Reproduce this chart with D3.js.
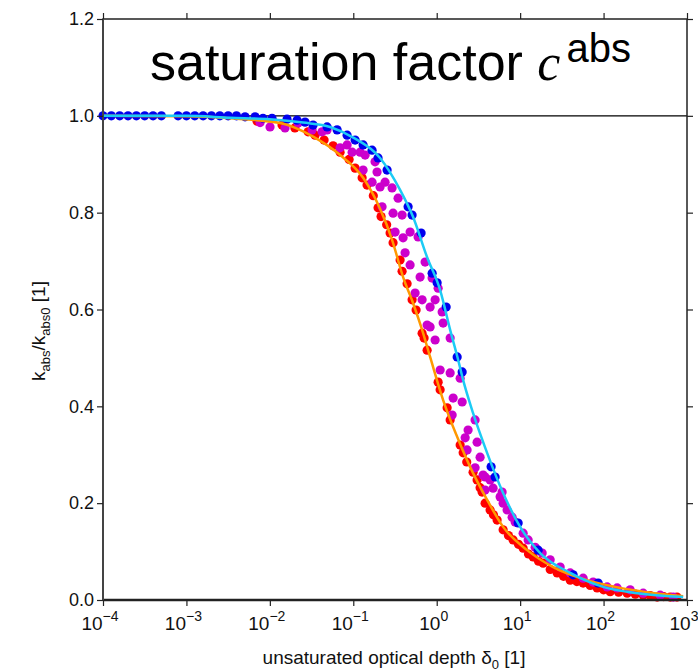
<!DOCTYPE html>
<html>
<head>
<meta charset="utf-8">
<script src="https://cdn.jsdelivr.net/npm/d3@7"></script>
<style>
  body { margin: 0; background: #fff; }
  svg { display: block; font-family: "Liberation Sans", Arial, sans-serif; }
</style>
</head>
<body>
<svg id="chart" width="698" height="671"></svg>
<script>
// data: [log10(delta0), kabs/kabs0]
var cyanCurve = [[-4,1.0],[-3,1.0],[-2.477,0.996],[-2,0.993],[-1.6,0.986],[-1.278,0.977],[-1,0.955],[-0.679,0.913],[-0.439,0.847],[-0.283,0.791],
  [-0.115,0.708],[0.041,0.640],[0.161,0.558],[0.257,0.496],[0.317,0.454],[0.436,0.386],[0.604,0.304],[0.796,0.221],[1.0,0.151],
  [1.240,0.097],[1.600,0.056],[1.995,0.027],[2.403,0.014],[2.954,0.006]];
var orangeCurve = [[-4,1.0],[-3,0.999],[-2.477,0.995],[-1.878,0.985],[-1.482,0.957],[-1.158,0.919],[-0.882,0.872],[-0.679,0.808],
  [-0.535,0.744],[-0.403,0.667],[-0.283,0.613],[-0.175,0.558],[-0.079,0.502],[0.077,0.413],[0.245,0.337],[0.400,0.275],
  [0.604,0.207],[0.796,0.151],[1.084,0.103],[1.396,0.068],[1.803,0.041],[2.199,0.025],[2.954,0.008]];

var redPts = [[-2.153,0.989],[-1.854,0.981],[-1.7,0.975],[-1.542,0.967],[-1.458,0.960],[-1.35,0.950],[-1.242,0.938],[-1.158,0.925],
  [-1.05,0.910],[-0.978,0.892],[-0.894,0.872],[-0.835,0.857],[-0.76,0.835],[-0.703,0.810],[-0.667,0.792],[-0.6,0.775],
  [-0.559,0.758],[-0.523,0.738],[-0.439,0.702],[-0.415,0.679],[-0.355,0.653],
  [-0.295,0.620],[-0.247,0.599],[-0.175,0.551],[-0.151,0.541],[-0.115,0.516],[0.017,0.450],[0.041,0.434],[0.125,0.397],
  [0.161,0.372],[0.281,0.320],[0.317,0.304],[0.36,0.285],[0.436,0.264],[0.484,0.248],[0.52,0.232],[0.544,0.223],[0.580,0.200],
  [0.640,0.186],[0.68,0.176],[0.724,0.165],[0.796,0.145],[0.86,0.133],[0.916,0.124],[0.98,0.115],[1.036,0.107],[1.1,0.095],
  [1.156,0.089],[1.22,0.080],[1.276,0.076],[1.36,0.063],[1.444,0.056],[1.52,0.049],[1.600,0.041],[1.68,0.038],
  [1.755,0.035],[1.84,0.030],[1.923,0.025],[2.0,0.021],[2.079,0.017],[2.18,0.016],[2.283,0.014],[2.38,0.012],[2.475,0.010],
  [2.56,0.009],[2.643,0.006],[2.72,0.007],[2.799,0.006],[2.880,0.006]];

var magentaPts = [[-2.117,0.986],[-1.998,0.977],[-1.818,0.975],[-1.662,0.985],[-1.494,0.971],[-1.374,0.967],[-1.314,0.971],[-1.158,0.934],
  [-1.074,0.940],[-1.014,0.925],[-0.918,0.925],[-0.858,0.919],[-0.739,0.905],[-0.882,0.888],[-0.715,0.884],[-0.775,0.863],
  [-0.619,0.863],[-0.679,0.853],[-0.535,0.851],[-0.463,0.830],[-0.655,0.812],[-0.523,0.799],[-0.415,0.795],[-0.499,0.760],
  [-0.319,0.760],[-0.403,0.748],[-0.223,0.750],[-0.379,0.717],[-0.319,0.692],[-0.139,0.698],[-0.199,0.667],[-0.055,0.665],
  [0.017,0.644],[-0.259,0.634],[-0.175,0.620],[-0.019,0.620],[-0.079,0.605],[0.065,0.595],[-0.115,0.568],[-0.079,0.564],
  [0.077,0.572],[-0.019,0.537],[0.161,0.541],[0.041,0.475],[0.161,0.469],[0.281,0.458],[0.197,0.417],[0.305,0.409],
  [0.185,0.382],[0.460,0.372],[0.376,0.351],[0.341,0.335],[0.484,0.326],[0.364,0.310],[0.520,0.295],[0.460,0.273],
  [0.580,0.254],[0.640,0.248],[0.676,0.231],[0.784,0.223],[0.580,0.227],[0.556,0.258],[0.760,0.213],[0.796,0.200],
  [0.844,0.186],[0.904,0.171],[0.940,0.161],[1.036,0.138],[1.096,0.124],[1.180,0.109],[1.264,0.097],[1.360,0.083],
  [1.480,0.068],[1.600,0.056],[1.755,0.045],[1.875,0.037],[2.043,0.027],[2.163,0.025],[2.319,0.021],[2.475,0.014],
  [2.679,0.010],[2.835,0.006]];

var bluePts = [[-4.0,1],[-3.9,1],[-3.8,1],[-3.7,1],[-3.6,1],[-3.5,1],[-3.4,1],[-3.3,1],
  [-3.1,1],[-3.0,1],[-2.9,1],[-2.8,1],[-2.7,1],[-2.6,1],[-2.5,1],[-2.4,1],
  [-2.297,0.998],[-2.177,0.998],[-2.082,0.995],[-1.974,0.995],[-1.794,0.993],[-1.674,0.991],[-1.578,0.987],[-1.482,0.981],
  [-1.314,0.977],[-1.194,0.971],[-1.074,0.960],[-0.978,0.950],[-0.882,0.940],[-0.775,0.929],[-0.703,0.913],[-0.595,0.888],
  [-0.343,0.812],[-0.295,0.795],[-0.187,0.758],[-0.055,0.675],[0.005,0.655],[0.113,0.605],[0.245,0.502],[0.305,0.471],
  [0.652,0.275],[0.700,0.254],[0.976,0.159],[1.216,0.103],[1.635,0.052],[1.935,0.035]];

var xTickExps = [-4, -3, -2, -1, 0, 1, 2, 3];
var yTicks = [0.0, 0.2, 0.4, 0.6, 0.8, 1.0, 1.2];

var svg = d3.select("#chart");
var plotL = 103, plotR = 687, plotT = 19, plotB = 600;

var x = d3.scaleLog().domain([1e-4, 1e3]).range([plotL, plotR]);
var y = d3.scaleLinear().domain([0, 1.2]).range([plotB, plotT]);
var px = d => x(Math.pow(10, d[0]));
var py = d => y(d[1]);

// reference line at 1.0
svg.append("line")
  .attr("x1", plotL).attr("x2", plotR)
  .attr("y1", y(1)).attr("y2", y(1))
  .attr("stroke", "#000").attr("stroke-width", 1.2);

// points
function dots(data, color){
  svg.append("g").selectAll("circle")
    .data(data)
    .enter().append("circle")
      .attr("cx", px).attr("cy", py)
      .attr("r", 4.6)
      .attr("fill", color);
}
dots(redPts, "#ff0000");
dots(magentaPts, "#cc00cc");
dots(bluePts, "#0000ee");

// curves
var line = d3.line().x(px).y(py).curve(d3.curveMonotoneX);
svg.append("path").datum(orangeCurve)
  .attr("d", line).attr("fill", "none")
  .attr("stroke", "#ff9900").attr("stroke-width", 2.5);
svg.append("path").datum(cyanCurve)
  .attr("d", line).attr("fill", "none")
  .attr("stroke", "#1ccbf5").attr("stroke-width", 2.5);

// frame
svg.append("rect")
  .attr("x", plotL).attr("y", plotT)
  .attr("width", plotR - plotL).attr("height", plotB - plotT)
  .attr("fill", "none").attr("stroke", "#222").attr("stroke-width", 1.5);
svg.append("line")
  .attr("x1", plotL).attr("x2", plotR).attr("y1", plotB).attr("y2", plotB)
  .attr("stroke", "#222").attr("stroke-width", 2.5);
svg.append("line")
  .attr("x1", plotL).attr("x2", plotL).attr("y1", plotT).attr("y2", plotB)
  .attr("stroke", "#444").attr("stroke-width", 2);

// axes (ticks outward on all sides)
var xb = svg.append("g").attr("transform", "translate(0," + plotB + ")")
  .call(d3.axisBottom(x).tickValues(xTickExps.map(e => Math.pow(10, e))).tickSize(6).tickFormat(""));
var xt = svg.append("g").attr("transform", "translate(0," + plotT + ")")
  .call(d3.axisTop(x).tickValues(xTickExps.map(e => Math.pow(10, e))).tickSize(6).tickFormat(""));
var yl = svg.append("g").attr("transform", "translate(" + plotL + ",0)")
  .call(d3.axisLeft(y).tickValues(yTicks).tickSize(6).tickFormat(d3.format(".1f")));
var yr = svg.append("g").attr("transform", "translate(" + plotR + ",0)")
  .call(d3.axisRight(y).tickValues(yTicks).tickSize(6).tickFormat(""));
[xb, xt, yl, yr].forEach(g => {
  g.select(".domain").remove();
  g.selectAll(".tick line").attr("stroke", "#222").attr("stroke-width", 1.2);
});
yl.selectAll(".tick text")
  .attr("font-family", "Liberation Sans, Arial, sans-serif")
  .attr("font-size", 18).attr("fill", "#111").attr("x", -9);

// x tick labels 10^n
var xl = svg.append("g").selectAll("text")
  .data(xTickExps)
  .enter().append("text")
    .attr("x", e => x(Math.pow(10, e)) - 3)
    .attr("y", 630)
    .attr("text-anchor", "middle")
    .attr("font-size", 19).attr("fill", "#111");
xl.append("tspan").text("10");
xl.append("tspan").attr("dy", -9).attr("font-size", 14)
  .text(e => e < 0 ? "\u2212" + Math.abs(e) : e);

// axis titles
var xTitle = svg.append("text")
  .attr("x", 394).attr("y", 664)
  .attr("text-anchor", "middle")
  .attr("font-size", 19).attr("fill", "#111");
xTitle.append("tspan").text("unsaturated optical depth \u03b4");
xTitle.append("tspan").attr("dy", 5).attr("font-size", 13).text("0");
xTitle.append("tspan").attr("dy", -5).text(" [1]");

var yTitle = svg.append("text")
  .attr("transform", "translate(45,331) rotate(-90)")
  .attr("text-anchor", "middle")
  .attr("font-size", 19).attr("fill", "#111");
yTitle.append("tspan").text("k");
yTitle.append("tspan").attr("dy", 5).attr("font-size", 13).text("abs");
yTitle.append("tspan").attr("dy", -5).text("/k");
yTitle.append("tspan").attr("dy", 5).attr("font-size", 13).text("abs0");
yTitle.append("tspan").attr("dy", -5).text(" [1]");

// title
var title = svg.append("text")
  .attr("x", 150).attr("y", 80)
  .attr("font-size", 52).attr("fill", "#000");
title.append("tspan").text("saturation factor ");
title.append("tspan")
  .attr("font-family", "Liberation Serif, DejaVu Serif, serif")
  .attr("font-style", "italic").text("c");
title.append("tspan").attr("dx", 6).attr("dy", -18).attr("font-size", 40).text("abs");
</script>
</body>
</html>
